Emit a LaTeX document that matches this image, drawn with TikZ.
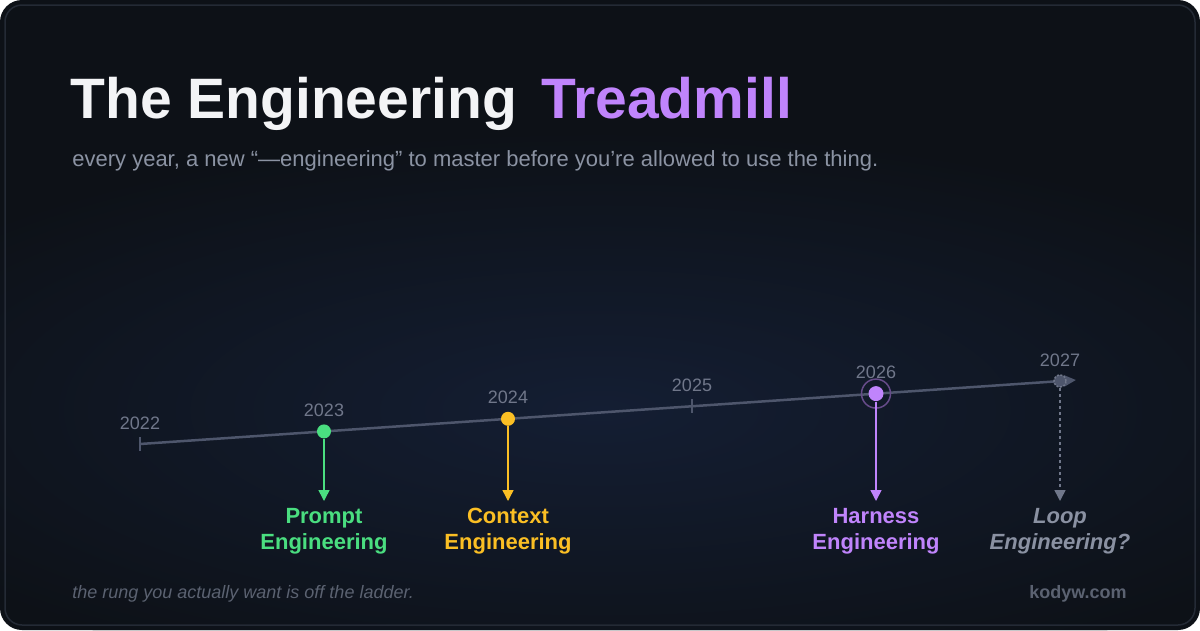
\documentclass[tikz,border=0pt]{standalone}
\usepackage{fontspec}
\setmainfont{Liberation Sans}
\usetikzlibrary{arrows.meta,positioning,calc}

\definecolor{bgdark}{HTML}{0D1117}
\definecolor{glowblue}{HTML}{141E33}
\definecolor{framegray}{HTML}{242A35}
\definecolor{axisgray}{HTML}{4E566C}
\definecolor{yeargray}{HTML}{70778A}
\definecolor{subgray}{HTML}{8B93A3}
\definecolor{dimgray}{HTML}{5B6271}
\definecolor{loopgray}{HTML}{8A91A2}
\definecolor{promptgreen}{HTML}{4ADE80}
\definecolor{contextamber}{HTML}{FBBF24}
\definecolor{harnesspurple}{HTML}{C084FC}
\definecolor{titlewhite}{HTML}{F3F4F6}

\begin{document}
\begin{tikzpicture}[x=1pt, y=-1pt, thick,
    year/.style={font=\fontsize{18}{21}\selectfont, text=yeargray, anchor=base, inner sep=0pt},
    dot/.style={circle, fill=#1, minimum size=14pt, inner sep=0pt},
    era/.style={font=\fontsize{22}{26}\selectfont\bfseries, text=#1, align=center, anchor=north, inner sep=0pt},
    pointer/.style={-{Stealth[length=11pt 0 0,width=11pt 0 0,inset=0pt]}, draw=#1, line width=1.5pt, shorten >=7pt}]
    % 背景与边框
    \useasboundingbox (0,0) rectangle (1200,630);
    \fill[white] (0,0) rectangle (1200,630);
    \fill[bgdark, rounded corners=22pt] (0,0) rectangle (1200,630);
    \begin{scope}
        \clip[rounded corners=22pt] (0,0) rectangle (1200,630);
        \shade[inner color=glowblue, outer color=bgdark] (600,410) ellipse [x radius=820pt, y radius=280pt];
    \end{scope}
    \draw[framegray, line width=1.5pt, rounded corners=17pt] (5,5) rectangle (1195,625);

    % 标题
    \node[anchor=base west, inner sep=0pt, font=\fontsize{57}{64}\selectfont\bfseries, text=titlewhite] (title) at (70,118) {The Engineering};
    \node[base right=24pt of title, inner sep=0pt, font=\fontsize{57}{64}\selectfont\bfseries, text=harnesspurple] (title2) {Treadmill};
    \node[anchor=base west, inner sep=0pt, font=\fontsize{22}{25}\selectfont, text=subgray] (subtitle) at (72,166)
        {every year, a new “—engineering” to master before you’re allowed to use the thing.};

    % 时间轴
    \foreach \k/\yr in {0/2022, 1/2023, 2/2024, 3/2025, 4/2026, 5/2027} {
        \coordinate (y\yr) at ({140+184*\k}, {444-12.6*\k});
        \node[year] (lab\yr) at ($(y\yr)+(0,-15)$) {\yr};
    }
    \coordinate (axisend) at (1076,380);
    \draw[axisgray, line width=2.5pt, -{Stealth[length=12pt 0 0,width=11pt 0 0,inset=0pt]}] (y2022) -- (axisend);
    \foreach \yr in {2022, 2025} {
        \draw[axisgray, line width=1.5pt] ($(y\yr)+(0,-7)$) -- ($(y\yr)+(0,7)$);
    }

    % 各年份的点
    \node[dot=promptgreen] (d2023) at (y2023) {};
    \node[dot=contextamber] (d2024) at (y2024) {};
    \node[circle, draw=harnesspurple!50!bgdark, line width=1.5pt, minimum size=29pt, inner sep=0pt] (ring2026) at (y2026) {};
    \node[dot=harnesspurple, minimum size=15pt] (d2026) at (y2026) {};
    \node[circle, draw=yeargray, fill=axisgray, line width=1.5pt, dash pattern=on 2pt off 1.5pt, minimum size=12pt, inner sep=0pt] (d2027) at (y2027) {};

    % 标签与箭头
    \node[era=promptgreen] (n2023) at (d2023 |- 0,508) {Prompt\\Engineering};
    \node[era=contextamber] (n2024) at (d2024 |- 0,508) {Context\\Engineering};
    \node[era=harnesspurple] (n2026) at (d2026 |- 0,508) {Harness\\Engineering};
    \node[era=loopgray, font=\fontsize{22}{26}\selectfont\bfseries\itshape] (n2027) at (d2027 |- 0,508) {Loop\\Engineering?};
    \draw[pointer=promptgreen] (d2023) -- (n2023);
    \draw[pointer=contextamber] (d2024) -- (n2024);
    \draw[pointer=harnesspurple] (d2026) -- (n2026);
    \draw[pointer=yeargray, dash pattern=on 3pt off 3pt] (d2027) -- (n2027);

    % 页脚
    \node[anchor=base west, inner sep=0pt, font=\fontsize{18}{21}\selectfont\itshape, text=dimgray] (motto) at (72,598)
        {the rung you actually want is off the ladder.};
    \node[anchor=base east, inner sep=0pt, font=\fontsize{18}{21}\selectfont\bfseries, text=dimgray] (site) at (1127,598) {kodyw.com};
\end{tikzpicture}
\end{document}
